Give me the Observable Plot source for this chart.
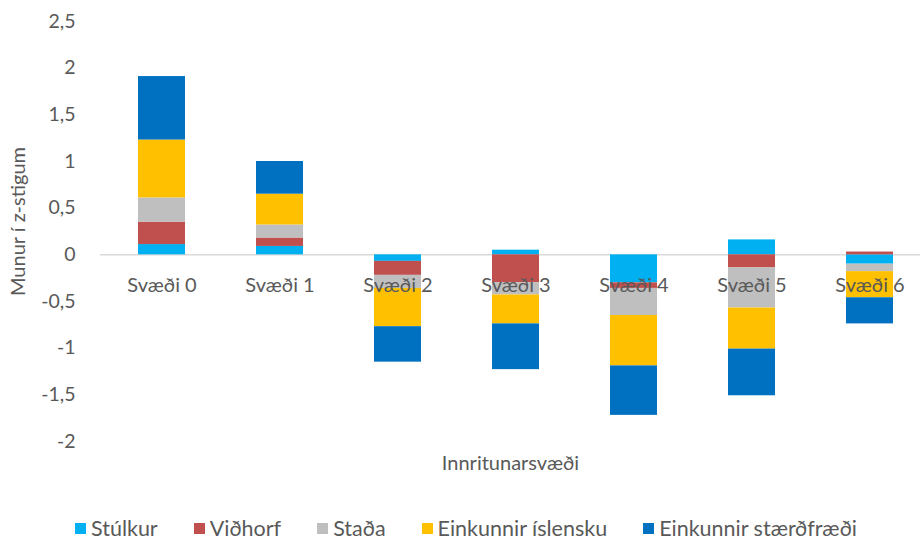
<!DOCTYPE html>
<html>
<head>
<meta charset="utf-8">
<script src="https://cdn.jsdelivr.net/npm/d3@7"></script>
<script src="https://cdn.jsdelivr.net/npm/@observablehq/plot@0.6"></script>
<style>
  html, body { margin: 0; padding: 0; background: #fff; }
  body { width: 920px; height: 541px; overflow: hidden; font-family: Lato, "Open Sans", sans-serif; }
  #legend { display: flex; justify-content: center; align-items: center; height: 56px; margin-top: 15px; gap: 36px; font-size: 21.5px; color: #595959; padding-left: 12px; }
  #legend .item { display: flex; align-items: center; }
  #legend .sw { width: 11px; height: 11px; margin-right: 5px; }
</style>
</head>
<body>
<div id="chart"></div>
<div id="legend"></div>
<script>
const categories = ["Svæði 0", "Svæði 1", "Svæði 2", "Svæði 3", "Svæði 4", "Svæði 5", "Svæði 6"];
const series = ["Stúlkur", "Viðhorf", "Staða", "Einkunnir íslensku", "Einkunnir stærðfræði"];
const colors = ["#00B0F0", "#C0504D", "#BFBFBF", "#FFC000", "#0070C0"];
const stulkur      = [0.11, 0.09, -0.07,  0.05, -0.30,  0.16, -0.10];
const vidhorf      = [0.24, 0.09, -0.15, -0.30, -0.06, -0.14,  0.03];
const stada        = [0.26, 0.14, -0.14, -0.13, -0.29, -0.43, -0.08];
const islenska     = [0.62, 0.33, -0.41, -0.31, -0.54, -0.44, -0.28];
const staerdfraedi = [0.68, 0.35, -0.38, -0.49, -0.53, -0.50, -0.28];
const yTicks = [-2, -1.5, -1, -0.5, 0, 0.5, 1, 1.5, 2, 2.5];

const seriesValues = [stulkur, vidhorf, stada, islenska, staerdfraedi];
const data = [];
categories.forEach((c, i) => {
  series.forEach((s, j) => data.push({cat: c, series: s, value: seriesValues[j][i]}));
});

const fmt = d => String(d).replace(".", ",");
const textColor = "#595959";

const chart = Plot.plot({
  width: 920,
  height: 485,
  marginTop: 21,
  marginBottom: 44,
  marginLeft: 100,
  marginRight: 0,
  style: {fontFamily: "Lato, 'Open Sans', sans-serif", fontSize: "19px", color: textColor, background: "#fff"},
  x: {domain: categories, range: [100, 931], paddingInner: 0.6, paddingOuter: 0.3, axis: null},
  y: {domain: [-2, 2.5], axis: null},
  color: {domain: series, range: colors},
  marks: [
    Plot.ruleY([0], {stroke: "#d9d9d9", strokeWidth: 1.5}),
    Plot.barY(data, {x: "cat", y: "value", fill: "series"}),
    Plot.axisY(yTicks, {tickSize: 0, tickPadding: 25, tickFormat: fmt, fill: textColor, fontSize: 19.5, label: null}),
    Plot.text(categories, {x: d => d, y: 0, dy: 31, text: d => d, fill: textColor, fontSize: 20}),
    Plot.text(["Innritunarsvæði"], {frameAnchor: "bottom", dy: 28, text: d => d, fill: textColor, fontSize: 20}),
    Plot.text(["Munur í z-stigum"], {frameAnchor: "left", textAnchor: "middle", dx: -82, dy: -10, rotate: -90, text: d => d, fill: textColor, fontSize: 20})
  ]
});
document.getElementById("chart").appendChild(chart);

const legend = document.getElementById("legend");
series.forEach((s, j) => {
  const it = document.createElement("div");
  it.className = "item";
  const sw = document.createElement("span");
  sw.className = "sw";
  sw.style.background = colors[j];
  const t = document.createElement("span");
  t.textContent = s;
  it.appendChild(sw);
  it.appendChild(t);
  legend.appendChild(it);
});
</script>
</body>
</html>
